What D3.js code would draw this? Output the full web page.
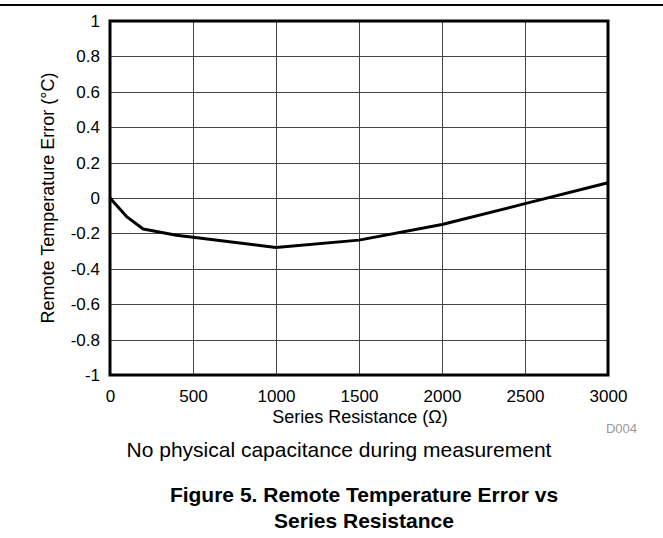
<!DOCTYPE html>
<html>
<head>
<meta charset="utf-8">
<script src="https://cdn.jsdelivr.net/npm/d3@7/dist/d3.min.js"></script>
<style>
  body { margin: 0; background: #fff; }
  text { font-family: "Liberation Sans", Arial, sans-serif; }
</style>
</head>
<body>
<svg id="chart"></svg>
<script>
const resistance = [0, 100, 200, 400, 500, 1000, 1500, 2000, 2500, 3000];
const tempError = [0, -0.105, -0.175, -0.21, -0.222, -0.28, -0.238, -0.15, -0.032, 0.086];
const xTicks = [0, 500, 1000, 1500, 2000, 2500, 3000];
const yTicks = [-1, -0.8, -0.6, -0.4, -0.2, 0, 0.2, 0.4, 0.6, 0.8, 1];

const width = 663, height = 538;
const plot = { left: 110, right: 608, top: 21, bottom: 375 };

const svg = d3.select("#chart")
    .attr("width", width)
    .attr("height", height);

// rule at the top of the page
svg.append("line")
    .attr("x1", 0).attr("x2", width)
    .attr("y1", 5).attr("y2", 5)
    .attr("stroke", "#000")
    .attr("stroke-width", 2);

const x = d3.scaleLinear().domain([0, 3000]).range([plot.left, plot.right]);
const y = d3.scaleLinear().domain([-1, 1]).range([plot.bottom, plot.top]);

// grid
svg.append("g")
    .selectAll("line")
    .data(xTicks.slice(1, -1))
    .join("line")
    .attr("x1", d => Math.round(x(d)) + 0.5).attr("x2", d => Math.round(x(d)) + 0.5)
    .attr("y1", plot.top).attr("y2", plot.bottom)
    .attr("stroke", "#444")
    .attr("stroke-width", 1);

svg.append("g")
    .selectAll("line")
    .data(yTicks.slice(1, -1))
    .join("line")
    .attr("x1", plot.left).attr("x2", plot.right)
    .attr("y1", d => Math.round(y(d)) + 0.5).attr("y2", d => Math.round(y(d)) + 0.5)
    .attr("stroke", "#444")
    .attr("stroke-width", 1);

// tick labels via axes (plain hyphen for negatives, like the original)
const xAxis = svg.append("g")
    .attr("transform", `translate(0,${plot.bottom})`)
    .call(d3.axisBottom(x).tickValues(xTicks).tickSize(0).tickPadding(15).tickFormat(d => String(d)));
xAxis.select(".domain").remove();
xAxis.selectAll("text").style("font-size", "17px").attr("fill", "#000");

const yAxis = svg.append("g")
    .attr("transform", `translate(${plot.left},0)`)
    .call(d3.axisLeft(y).tickValues(yTicks).tickSize(0).tickPadding(10).tickFormat(d => String(+d.toFixed(1))));
yAxis.select(".domain").remove();
yAxis.selectAll("text").style("font-size", "17px").attr("fill", "#000");

// data line
const line = d3.line()
    .x((d, i) => x(resistance[i]))
    .y(d => y(d));

svg.append("path")
    .datum(tempError)
    .attr("d", line)
    .attr("fill", "none")
    .attr("stroke", "#000")
    .attr("stroke-width", 3)
    .attr("stroke-linejoin", "round");

// frame
svg.append("rect")
    .attr("x", plot.left).attr("y", plot.top)
    .attr("width", plot.right - plot.left)
    .attr("height", plot.bottom - plot.top)
    .attr("fill", "none")
    .attr("stroke", "#000")
    .attr("stroke-width", 3);

// axis titles
svg.append("text")
    .attr("x", 360)
    .attr("y", 423)
    .attr("text-anchor", "middle")
    .style("font-size", "18px")
    .text("Series Resistance (Ω)");

svg.append("text")
    .attr("transform", `translate(54,${(plot.top + plot.bottom) / 2}) rotate(-90)`)
    .attr("text-anchor", "middle")
    .style("font-size", "18px")
    .text("Remote Temperature Error (°C)");

svg.append("text")
    .attr("x", 637)
    .attr("y", 433)
    .attr("text-anchor", "end")
    .style("font-size", "13px")
    .attr("fill", "#999")
    .text("D004");

svg.append("text")
    .attr("x", 339)
    .attr("y", 457)
    .attr("text-anchor", "middle")
    .style("font-size", "21px")
    .text("No physical capacitance during measurement");

svg.append("text")
    .attr("x", 364)
    .attr("y", 502)
    .attr("text-anchor", "middle")
    .style("font-size", "21px")
    .style("font-weight", "bold")
    .text("Figure 5. Remote Temperature Error vs");

svg.append("text")
    .attr("x", 364)
    .attr("y", 528)
    .attr("text-anchor", "middle")
    .style("font-size", "21px")
    .style("font-weight", "bold")
    .text("Series Resistance");
</script>
</body>
</html>
